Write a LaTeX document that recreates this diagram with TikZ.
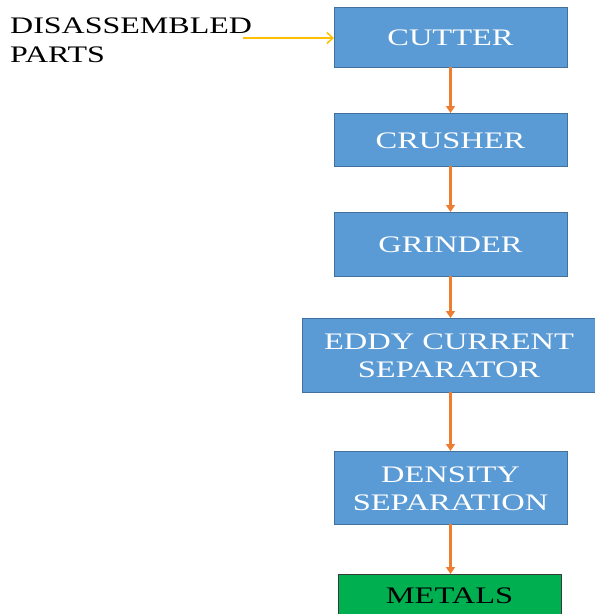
\documentclass[tikz,border=0pt]{standalone}
\usepackage{fontspec}
\setmainfont{Liberation Serif}
\usetikzlibrary{arrows.meta}
\definecolor{boxblue}{HTML}{5B9BD5}
\definecolor{boxedge}{HTML}{41719C}
\definecolor{arrorange}{HTML}{ED7D31}
\definecolor{arryellow}{HTML}{FFC000}
\definecolor{boxgreen}{HTML}{00B050}
\definecolor{greenedge}{HTML}{3A3A3A}
\newcommand\wtxt[1]{\raisebox{-3pt}[\height][\depth]{\scalebox{1.37}[1]{\begin{tabular}{@{}c@{}}#1\end{tabular}}}}
\newcommand\wltxt[1]{\scalebox{1.35}[1]{\begin{tabular}[t]{@{}l@{}}#1\end{tabular}}}
\tikzset{
  stagebox/.style={draw=boxedge, line width=0.8pt, fill=boxblue, text=white,
    minimum width=233pt, inner sep=0pt, outer sep=0pt,
    font=\fontsize{23.7}{28}\selectfont},
  endbox/.style={draw=greenedge, line width=1pt, fill=boxgreen, text=black,
    minimum width=223pt, inner sep=0pt, outer sep=0pt,
    font=\fontsize{23.7}{28}\selectfont},
  flowarrow/.style={draw=arrorange, line width=2.2pt,
    -{Triangle[length=7pt,width=9pt]}},
  inarrow/.style={draw=arryellow, line width=1.5pt,
    -{Straight Barb[length=6pt,width=11pt,line width=1.5pt]}}
}
\begin{document}
\begin{tikzpicture}[x=1pt,y=-1pt]
\useasboundingbox (0,0) rectangle (595,614);
\clip (0,0) rectangle (595,614);
\node[stagebox, minimum height=60pt] (cutter) at (450.5,37) {\wtxt{CUTTER}};
\node[stagebox, minimum height=53pt] (crusher) at (450.5,139.5) {\wtxt{CRUSHER}};
\node[stagebox, minimum height=64pt] (grinder) at (450.5,244) {\wtxt{GRINDER}};
\node[stagebox, minimum width=294pt, minimum height=74pt] (eddy) at (449,355) {\wtxt{EDDY CURRENT\\SEPARATOR}};
\node[stagebox, minimum height=73pt] (density) at (450.5,487.5) {\wtxt{DENSITY\\SEPARATION}};
\node[endbox, minimum height=42pt] (metals) at (449.5,595) {\wtxt{METALS}};
\node[anchor=base west, inner sep=0pt, font=\fontsize{23.7}{29}\selectfont] (parts) at (10,33) {\wltxt{DISASSEMBLED\\PARTS}};
\coordinate (instart) at (243,38);
\draw[inarrow] (instart) -- (cutter.west |- instart);
\draw[flowarrow] (cutter.south) -- (crusher.north);
\draw[flowarrow] (crusher.south) -- (grinder.north);
\draw[flowarrow] (grinder.south) -- (grinder.south |- eddy.north);
\draw[flowarrow] (grinder.south |- eddy.south) -- (density.north);
\draw[flowarrow] (density.south) -- (density.south |- metals.north);
\end{tikzpicture}
\end{document}
